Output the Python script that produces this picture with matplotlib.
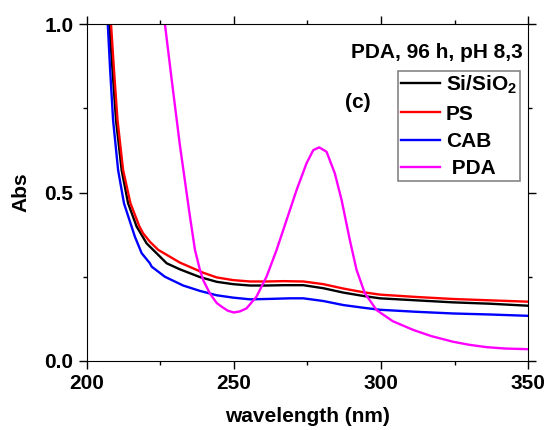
import numpy as np
import matplotlib
matplotlib.use("Agg")
import matplotlib.pyplot as plt
from matplotlib.ticker import MultipleLocator

plt.rcParams['font.family'] = ['Liberation Sans', 'DejaVu Sans']
plt.rcParams['font.weight'] = 'bold'
plt.rcParams['mathtext.fontset'] = 'custom'
plt.rcParams['mathtext.rm'] = 'Liberation Sans:bold'
plt.rcParams['mathtext.bf'] = 'Liberation Sans:bold'

# UV-vis spectra, wavelength in nm
wl_sio2 = [207.7, 208.8, 210.0, 211.9, 214.1, 217.0, 220.4, 224.9, 227.2, 231.7, 238.5, 244.2, 249.8, 255.5,
           261.1, 266.8, 273.6, 280.4, 287.2, 294.0, 299.6, 312, 324.5, 337, 350]
abs_sio2 = [1.0, 0.864, 0.715, 0.567, 0.468, 0.399, 0.349, 0.31, 0.29, 0.272, 0.249, 0.235, 0.228, 0.224,
            0.224, 0.225, 0.225, 0.216, 0.203, 0.193, 0.186, 0.18, 0.174, 0.17, 0.164]

wl_ps = [208.3, 209.3, 210.5, 212.4, 214.9, 217.9, 219.2, 221.5, 224.3, 231.7, 239.6, 244.2, 249.8, 255.5,
         261.1, 266.8, 273.6, 280.4, 287.2, 294.0, 299.6, 312, 324.5, 337, 350]
abs_ps = [1.0, 0.864, 0.715, 0.567, 0.468, 0.40, 0.379, 0.354, 0.33, 0.292, 0.262, 0.248, 0.24, 0.236,
          0.236, 0.237, 0.236, 0.228, 0.215, 0.204, 0.197, 0.19, 0.184, 0.18, 0.176]

wl_cab = [207.2, 208.0, 209.0, 210.7, 212.7, 216.4, 218.7, 221.5, 222.1, 226.6, 232.8, 238.5, 244.2, 249.8,
          255.5, 261.1, 269.1, 273.6, 280.4, 287.2, 294.0, 299.6, 312, 324.5, 337, 350]
abs_cab = [1.0, 0.864, 0.715, 0.567, 0.468, 0.369, 0.32, 0.29, 0.28, 0.25, 0.224, 0.208, 0.195, 0.188,
           0.183, 0.184, 0.186, 0.186, 0.178, 0.166, 0.158, 0.152, 0.146, 0.141, 0.138, 0.134]

wl_pda = [226.6, 229.2, 231.7, 235.0, 236.8, 238.5, 239.6, 241.9, 244.2, 245.9, 248.0, 250.0, 252.0, 254.3,
          257.7, 261.1, 264.5, 267.9, 271.3, 274.7, 277.0, 279.0, 281.5, 284.3, 286.6, 289.4, 291.7, 294.5,
          298.5, 304, 311, 317, 324.5, 330, 335.9, 342, 350]
abs_pda = [1.0, 0.814, 0.64, 0.435, 0.33, 0.27, 0.24, 0.2, 0.172, 0.161, 0.149, 0.144, 0.147, 0.156,
           0.191, 0.25, 0.329, 0.418, 0.507, 0.587, 0.626, 0.634, 0.621, 0.557, 0.478, 0.359, 0.27, 0.201,
           0.151, 0.118, 0.092, 0.074, 0.057, 0.048, 0.041, 0.037, 0.035]

labels = [r'Si/SiO$_\mathbf{2}$', 'PS', 'CAB', ' PDA']
colors = ['black', '#ff0000', '#0000ff', '#ff00ff']

fig = plt.figure(figsize=(5.48, 4.3), dpi=100)
ax = fig.add_axes([0.158, 0.1605, 0.806, 0.7835])

series = [(wl_sio2, abs_sio2), (wl_ps, abs_ps), (wl_cab, abs_cab), (wl_pda, abs_pda)]
for (x, y), c, lab in zip(series, colors, labels):
    ax.plot(x, y, color=c, lw=1.7, label=lab)

ax.set_xlim(200, 350)
ax.set_ylim(0, 1.0)
ax.xaxis.set_major_locator(MultipleLocator(50))
ax.xaxis.set_minor_locator(MultipleLocator(25))
ax.yaxis.set_major_locator(MultipleLocator(0.5))
ax.yaxis.set_minor_locator(MultipleLocator(0.25))
ax.tick_params(which='major', direction='out', length=6, width=1, labelsize=15, top=True, right=True)
ax.tick_params(which='minor', direction='out', length=3, width=1, top=True, right=True)
for lbl in ax.get_xticklabels() + ax.get_yticklabels():
    lbl.set_fontweight('bold')

ax.set_xlabel('wavelength (nm)', fontsize=15, fontweight='bold', labelpad=10)
ax.set_ylabel('Abs', fontsize=15, fontweight='bold', labelpad=10)

ax.text(0.987, 0.917, 'PDA, 96 h, pH 8,3', transform=ax.transAxes, ha='right', va='center',
        fontsize=15, fontweight='bold')
ax.text(0.614, 0.768, '(c)', transform=ax.transAxes, ha='center', va='center',
        fontsize=15, fontweight='bold')

leg = ax.legend(loc='upper right', bbox_to_anchor=(0.9815, 0.862), fontsize=15, frameon=True,
                fancybox=False, handlelength=1.85, handletextpad=0.3, labelspacing=0.4,
                borderpad=0.15, borderaxespad=0)
leg.get_frame().set_edgecolor('#666666')
leg.get_frame().set_linewidth(1.2)
for t in leg.get_texts():
    t.set_fontweight('bold')

fig.savefig('out.png', dpi=100)
